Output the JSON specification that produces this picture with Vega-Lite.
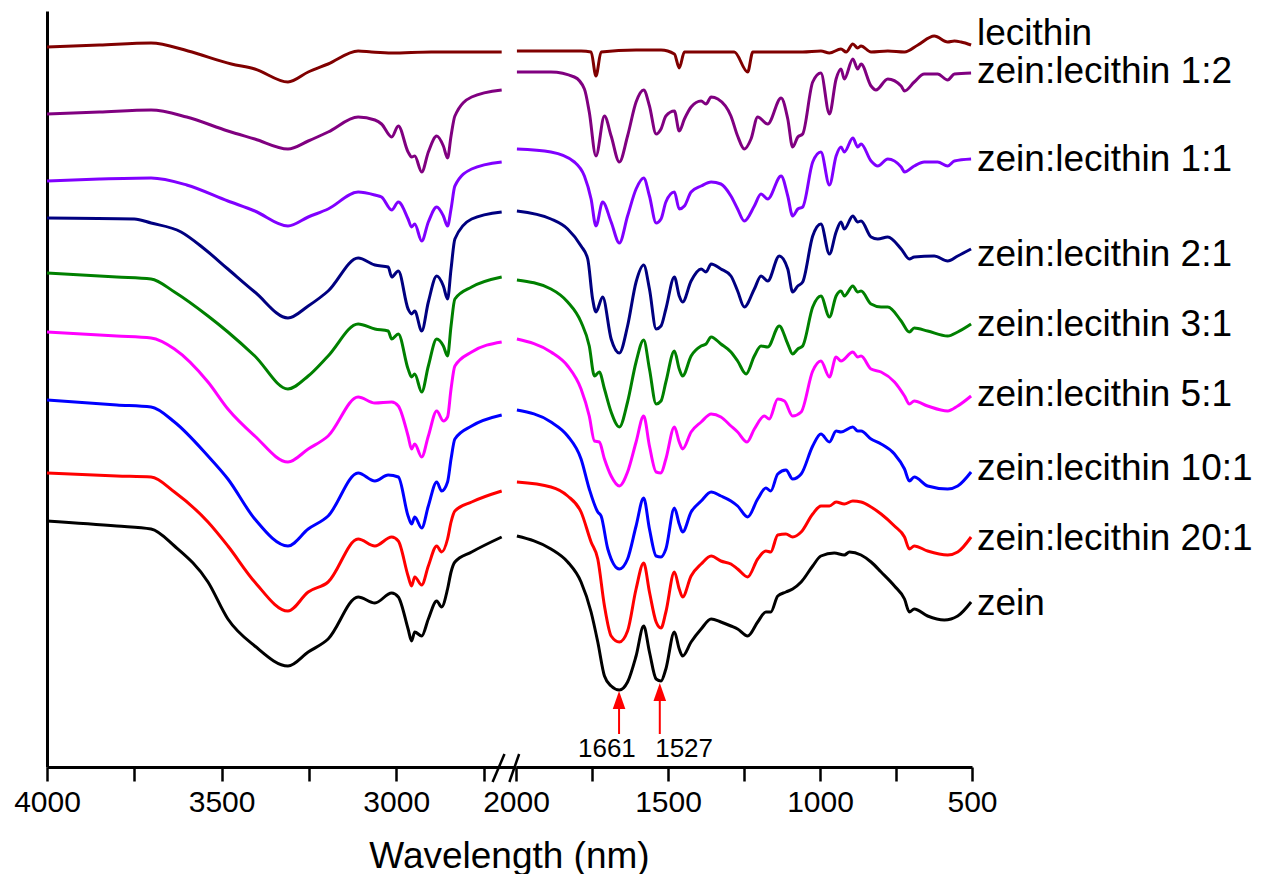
{
"$schema": "https://vega.github.io/schema/vega-lite/v6.json",
"padding": {"left": 13, "top": 11, "right": 0, "bottom": 0},
"background": "white",
"bounds": "flush",
"spacing": 0,
"config": {"view": {"stroke": null}, "font": "Liberation Sans"},
"datasets": {
"spectra": [
{"s":"lec","x":4000,"y":720},{"s":"lec","x":3850,"y":722},{"s":"lec","x":3702,"y":724},{"s":"lec","x":3596,"y":716},{"s":"lec","x":3472,"y":703},{"s":"lec","x":3405,"y":698},{"s":"lec","x":3310,"y":685},{"s":"lec","x":3252,"y":695},{"s":"lec","x":3195,"y":703},{"s":"lec","x":3109,"y":716},{"s":"lec","x":3071,"y":715},{"s":"lec","x":3013,"y":714},{"s":"lec","x":2900,"y":715},{"s":"lec","x":2698,"y":715},
{"s":"lec","x":1997,"y":716},{"s":"lec","x":1786,"y":716},{"s":"lec","x":1753,"y":715},{"s":"lec","x":1737,"y":691},{"s":"lec","x":1720,"y":715},{"s":"lec","x":1605,"y":717},{"s":"lec","x":1523,"y":717},{"s":"lec","x":1479,"y":713},{"s":"lec","x":1463,"y":699},{"s":"lec","x":1446,"y":715},{"s":"lec","x":1282,"y":715},{"s":"lec","x":1238,"y":695},{"s":"lec","x":1221,"y":715},{"s":"lec","x":1057,"y":715},{"s":"lec","x":997,"y":716},{"s":"lec","x":969,"y":714},{"s":"lec","x":931,"y":718},{"s":"lec","x":914,"y":715},{"s":"lec","x":892,"y":723},{"s":"lec","x":876,"y":719},{"s":"lec","x":865,"y":721},{"s":"lec","x":832,"y":715},{"s":"lec","x":777,"y":716},{"s":"lec","x":722,"y":715},{"s":"lec","x":678,"y":722},{"s":"lec","x":624,"y":731},{"s":"lec","x":580,"y":725},{"s":"lec","x":558,"y":726},{"s":"lec","x":536,"y":725},{"s":"lec","x":503,"y":722},

{"s":"1:2","x":4000,"y":653},{"s":"1:2","x":3850,"y":655},{"s":"1:2","x":3702,"y":657},{"s":"1:2","x":3600,"y":650},{"s":"1:2","x":3482,"y":636},{"s":"1:2","x":3405,"y":628},{"s":"1:2","x":3310,"y":618},{"s":"1:2","x":3252,"y":626},{"s":"1:2","x":3195,"y":635},{"s":"1:2","x":3109,"y":650},{"s":"1:2","x":3061,"y":647},{"s":"1:2","x":3042,"y":643},{"s":"1:2","x":3013,"y":630},{"s":"1:2","x":2994,"y":641},{"s":"1:2","x":2966,"y":615},{"s":"1:2","x":2956,"y":610},{"s":"1:2","x":2947,"y":611},{"s":"1:2","x":2927,"y":595},{"s":"1:2","x":2908,"y":615},{"s":"1:2","x":2884,"y":631},{"s":"1:2","x":2865,"y":621},{"s":"1:2","x":2853,"y":609},{"s":"1:2","x":2843,"y":631},{"s":"1:2","x":2832,"y":651},{"s":"1:2","x":2784,"y":670},{"s":"1:2","x":2698,"y":677},
{"s":"1:2","x":1997,"y":695},{"s":"1:2","x":1885,"y":695},{"s":"1:2","x":1808,"y":690},{"s":"1:2","x":1775,"y":678},{"s":"1:2","x":1759,"y":655},{"s":"1:2","x":1737,"y":611},{"s":"1:2","x":1709,"y":651},{"s":"1:2","x":1687,"y":631},{"s":"1:2","x":1660,"y":605},{"s":"1:2","x":1633,"y":631},{"s":"1:2","x":1605,"y":665},{"s":"1:2","x":1580,"y":677},{"s":"1:2","x":1561,"y":661},{"s":"1:2","x":1539,"y":633},{"s":"1:2","x":1523,"y":638},{"s":"1:2","x":1507,"y":651},{"s":"1:2","x":1479,"y":656},{"s":"1:2","x":1463,"y":636},{"s":"1:2","x":1446,"y":648},{"s":"1:2","x":1424,"y":660},{"s":"1:2","x":1391,"y":666},{"s":"1:2","x":1375,"y":663},{"s":"1:2","x":1358,"y":670},{"s":"1:2","x":1336,"y":668},{"s":"1:2","x":1293,"y":651},{"s":"1:2","x":1271,"y":631},{"s":"1:2","x":1249,"y":618},{"s":"1:2","x":1227,"y":628},{"s":"1:2","x":1205,"y":650},{"s":"1:2","x":1172,"y":643},{"s":"1:2","x":1128,"y":669},{"s":"1:2","x":1106,"y":648},{"s":"1:2","x":1090,"y":620},{"s":"1:2","x":1073,"y":630},{"s":"1:2","x":1057,"y":633},{"s":"1:2","x":1024,"y":685},{"s":"1:2","x":997,"y":694},{"s":"1:2","x":969,"y":653},{"s":"1:2","x":947,"y":688},{"s":"1:2","x":931,"y":698},{"s":"1:2","x":920,"y":688},{"s":"1:2","x":892,"y":708},{"s":"1:2","x":876,"y":698},{"s":"1:2","x":865,"y":703},{"s":"1:2","x":832,"y":681},{"s":"1:2","x":816,"y":677},{"s":"1:2","x":777,"y":688},{"s":"1:2","x":733,"y":681},{"s":"1:2","x":722,"y":676},{"s":"1:2","x":690,"y":685},{"s":"1:2","x":657,"y":693},{"s":"1:2","x":613,"y":693},{"s":"1:2","x":580,"y":687},{"s":"1:2","x":558,"y":693},{"s":"1:2","x":503,"y":694},

{"s":"1:1","x":4000,"y":586},{"s":"1:1","x":3850,"y":588},{"s":"1:1","x":3702,"y":589},{"s":"1:1","x":3600,"y":582},{"s":"1:1","x":3482,"y":566},{"s":"1:1","x":3405,"y":556},{"s":"1:1","x":3310,"y":541},{"s":"1:1","x":3252,"y":550},{"s":"1:1","x":3195,"y":558},{"s":"1:1","x":3109,"y":575},{"s":"1:1","x":3061,"y":572},{"s":"1:1","x":3042,"y":570},{"s":"1:1","x":3013,"y":557},{"s":"1:1","x":2994,"y":565},{"s":"1:1","x":2966,"y":548},{"s":"1:1","x":2956,"y":540},{"s":"1:1","x":2947,"y":543},{"s":"1:1","x":2927,"y":526},{"s":"1:1","x":2908,"y":545},{"s":"1:1","x":2884,"y":560},{"s":"1:1","x":2865,"y":551},{"s":"1:1","x":2853,"y":541},{"s":"1:1","x":2843,"y":558},{"s":"1:1","x":2832,"y":581},{"s":"1:1","x":2784,"y":598},{"s":"1:1","x":2698,"y":605},
{"s":"1:1","x":1997,"y":618},{"s":"1:1","x":1885,"y":615},{"s":"1:1","x":1808,"y":605},{"s":"1:1","x":1775,"y":591},{"s":"1:1","x":1753,"y":568},{"s":"1:1","x":1737,"y":541},{"s":"1:1","x":1715,"y":565},{"s":"1:1","x":1687,"y":545},{"s":"1:1","x":1660,"y":524},{"s":"1:1","x":1633,"y":551},{"s":"1:1","x":1605,"y":578},{"s":"1:1","x":1580,"y":589},{"s":"1:1","x":1561,"y":571},{"s":"1:1","x":1539,"y":544},{"s":"1:1","x":1523,"y":548},{"s":"1:1","x":1507,"y":565},{"s":"1:1","x":1479,"y":575},{"s":"1:1","x":1463,"y":558},{"s":"1:1","x":1446,"y":561},{"s":"1:1","x":1424,"y":575},{"s":"1:1","x":1391,"y":581},{"s":"1:1","x":1358,"y":585},{"s":"1:1","x":1326,"y":583},{"s":"1:1","x":1293,"y":571},{"s":"1:1","x":1271,"y":558},{"s":"1:1","x":1249,"y":546},{"s":"1:1","x":1216,"y":561},{"s":"1:1","x":1194,"y":573},{"s":"1:1","x":1172,"y":568},{"s":"1:1","x":1128,"y":591},{"s":"1:1","x":1106,"y":571},{"s":"1:1","x":1090,"y":551},{"s":"1:1","x":1073,"y":558},{"s":"1:1","x":1057,"y":560},{"s":"1:1","x":1024,"y":605},{"s":"1:1","x":997,"y":615},{"s":"1:1","x":969,"y":582},{"s":"1:1","x":947,"y":611},{"s":"1:1","x":931,"y":620},{"s":"1:1","x":920,"y":615},{"s":"1:1","x":892,"y":629},{"s":"1:1","x":876,"y":620},{"s":"1:1","x":865,"y":623},{"s":"1:1","x":832,"y":606},{"s":"1:1","x":810,"y":601},{"s":"1:1","x":777,"y":608},{"s":"1:1","x":733,"y":600},{"s":"1:1","x":722,"y":595},{"s":"1:1","x":690,"y":601},{"s":"1:1","x":657,"y":605},{"s":"1:1","x":613,"y":605},{"s":"1:1","x":580,"y":601},{"s":"1:1","x":558,"y":606},{"s":"1:1","x":503,"y":608},

{"s":"2:1","x":4000,"y":549},{"s":"2:1","x":3750,"y":548},{"s":"2:1","x":3702,"y":544},{"s":"2:1","x":3616,"y":535},{"s":"2:1","x":3549,"y":518},{"s":"2:1","x":3482,"y":498},{"s":"2:1","x":3405,"y":475},{"s":"2:1","x":3310,"y":449},{"s":"2:1","x":3252,"y":461},{"s":"2:1","x":3195,"y":476},{"s":"2:1","x":3109,"y":509},{"s":"2:1","x":3061,"y":502},{"s":"2:1","x":3023,"y":500},{"s":"2:1","x":3013,"y":490},{"s":"2:1","x":2994,"y":496},{"s":"2:1","x":2966,"y":458},{"s":"2:1","x":2956,"y":453},{"s":"2:1","x":2947,"y":456},{"s":"2:1","x":2927,"y":436},{"s":"2:1","x":2908,"y":465},{"s":"2:1","x":2884,"y":491},{"s":"2:1","x":2865,"y":481},{"s":"2:1","x":2853,"y":468},{"s":"2:1","x":2843,"y":498},{"s":"2:1","x":2832,"y":528},{"s":"2:1","x":2784,"y":548},{"s":"2:1","x":2698,"y":555},
{"s":"2:1","x":1997,"y":556},{"s":"2:1","x":1885,"y":548},{"s":"2:1","x":1830,"y":538},{"s":"2:1","x":1786,"y":521},{"s":"2:1","x":1764,"y":508},{"s":"2:1","x":1748,"y":468},{"s":"2:1","x":1737,"y":455},{"s":"2:1","x":1715,"y":470},{"s":"2:1","x":1687,"y":428},{"s":"2:1","x":1660,"y":414},{"s":"2:1","x":1633,"y":441},{"s":"2:1","x":1605,"y":485},{"s":"2:1","x":1580,"y":502},{"s":"2:1","x":1561,"y":478},{"s":"2:1","x":1539,"y":438},{"s":"2:1","x":1523,"y":441},{"s":"2:1","x":1507,"y":458},{"s":"2:1","x":1479,"y":490},{"s":"2:1","x":1463,"y":471},{"s":"2:1","x":1452,"y":465},{"s":"2:1","x":1424,"y":486},{"s":"2:1","x":1391,"y":498},{"s":"2:1","x":1375,"y":495},{"s":"2:1","x":1358,"y":503},{"s":"2:1","x":1326,"y":498},{"s":"2:1","x":1293,"y":491},{"s":"2:1","x":1271,"y":476},{"s":"2:1","x":1249,"y":460},{"s":"2:1","x":1216,"y":478},{"s":"2:1","x":1194,"y":491},{"s":"2:1","x":1172,"y":486},{"s":"2:1","x":1134,"y":511},{"s":"2:1","x":1106,"y":498},{"s":"2:1","x":1090,"y":475},{"s":"2:1","x":1073,"y":481},{"s":"2:1","x":1057,"y":485},{"s":"2:1","x":1024,"y":531},{"s":"2:1","x":997,"y":543},{"s":"2:1","x":969,"y":513},{"s":"2:1","x":947,"y":535},{"s":"2:1","x":931,"y":545},{"s":"2:1","x":920,"y":538},{"s":"2:1","x":892,"y":551},{"s":"2:1","x":876,"y":545},{"s":"2:1","x":865,"y":546},{"s":"2:1","x":832,"y":530},{"s":"2:1","x":810,"y":528},{"s":"2:1","x":777,"y":530},{"s":"2:1","x":733,"y":518},{"s":"2:1","x":706,"y":508},{"s":"2:1","x":690,"y":510},{"s":"2:1","x":624,"y":511},{"s":"2:1","x":580,"y":506},{"s":"2:1","x":547,"y":511},{"s":"2:1","x":503,"y":518},

{"s":"3:1","x":4000,"y":494},{"s":"3:1","x":3800,"y":490},{"s":"3:1","x":3702,"y":488},{"s":"3:1","x":3635,"y":475},{"s":"3:1","x":3539,"y":451},{"s":"3:1","x":3482,"y":435},{"s":"3:1","x":3405,"y":411},{"s":"3:1","x":3310,"y":378},{"s":"3:1","x":3252,"y":391},{"s":"3:1","x":3195,"y":411},{"s":"3:1","x":3109,"y":443},{"s":"3:1","x":3061,"y":438},{"s":"3:1","x":3023,"y":436},{"s":"3:1","x":3013,"y":428},{"s":"3:1","x":2994,"y":433},{"s":"3:1","x":2966,"y":398},{"s":"3:1","x":2956,"y":390},{"s":"3:1","x":2947,"y":393},{"s":"3:1","x":2927,"y":375},{"s":"3:1","x":2908,"y":401},{"s":"3:1","x":2884,"y":428},{"s":"3:1","x":2865,"y":421},{"s":"3:1","x":2853,"y":411},{"s":"3:1","x":2843,"y":441},{"s":"3:1","x":2832,"y":468},{"s":"3:1","x":2784,"y":480},{"s":"3:1","x":2698,"y":490},
{"s":"3:1","x":1997,"y":487},{"s":"3:1","x":1885,"y":478},{"s":"3:1","x":1830,"y":465},{"s":"3:1","x":1786,"y":445},{"s":"3:1","x":1759,"y":421},{"s":"3:1","x":1742,"y":391},{"s":"3:1","x":1726,"y":395},{"s":"3:1","x":1709,"y":378},{"s":"3:1","x":1687,"y":355},{"s":"3:1","x":1660,"y":340},{"s":"3:1","x":1633,"y":365},{"s":"3:1","x":1605,"y":405},{"s":"3:1","x":1580,"y":427},{"s":"3:1","x":1561,"y":398},{"s":"3:1","x":1539,"y":363},{"s":"3:1","x":1523,"y":366},{"s":"3:1","x":1507,"y":385},{"s":"3:1","x":1479,"y":416},{"s":"3:1","x":1463,"y":398},{"s":"3:1","x":1452,"y":391},{"s":"3:1","x":1424,"y":411},{"s":"3:1","x":1391,"y":421},{"s":"3:1","x":1375,"y":423},{"s":"3:1","x":1358,"y":430},{"s":"3:1","x":1326,"y":423},{"s":"3:1","x":1293,"y":415},{"s":"3:1","x":1271,"y":406},{"s":"3:1","x":1243,"y":393},{"s":"3:1","x":1216,"y":411},{"s":"3:1","x":1194,"y":421},{"s":"3:1","x":1172,"y":420},{"s":"3:1","x":1134,"y":441},{"s":"3:1","x":1106,"y":423},{"s":"3:1","x":1090,"y":413},{"s":"3:1","x":1073,"y":418},{"s":"3:1","x":1057,"y":421},{"s":"3:1","x":1024,"y":460},{"s":"3:1","x":997,"y":471},{"s":"3:1","x":969,"y":450},{"s":"3:1","x":947,"y":471},{"s":"3:1","x":931,"y":476},{"s":"3:1","x":920,"y":471},{"s":"3:1","x":892,"y":481},{"s":"3:1","x":876,"y":475},{"s":"3:1","x":865,"y":476},{"s":"3:1","x":832,"y":463},{"s":"3:1","x":799,"y":460},{"s":"3:1","x":777,"y":460},{"s":"3:1","x":733,"y":446},{"s":"3:1","x":706,"y":435},{"s":"3:1","x":690,"y":439},{"s":"3:1","x":646,"y":436},{"s":"3:1","x":580,"y":431},{"s":"3:1","x":547,"y":435},{"s":"3:1","x":503,"y":443},

{"s":"5:1","x":4000,"y":435},{"s":"5:1","x":3800,"y":431},{"s":"5:1","x":3702,"y":429},{"s":"5:1","x":3635,"y":418},{"s":"5:1","x":3539,"y":385},{"s":"5:1","x":3482,"y":358},{"s":"5:1","x":3405,"y":331},{"s":"5:1","x":3310,"y":305},{"s":"5:1","x":3252,"y":318},{"s":"5:1","x":3195,"y":331},{"s":"5:1","x":3109,"y":370},{"s":"5:1","x":3061,"y":364},{"s":"5:1","x":3013,"y":365},{"s":"5:1","x":2994,"y":361},{"s":"5:1","x":2966,"y":331},{"s":"5:1","x":2956,"y":318},{"s":"5:1","x":2947,"y":323},{"s":"5:1","x":2927,"y":310},{"s":"5:1","x":2908,"y":331},{"s":"5:1","x":2884,"y":356},{"s":"5:1","x":2865,"y":346},{"s":"5:1","x":2853,"y":350},{"s":"5:1","x":2843,"y":378},{"s":"5:1","x":2832,"y":401},{"s":"5:1","x":2784,"y":415},{"s":"5:1","x":2698,"y":425},
{"s":"5:1","x":1997,"y":428},{"s":"5:1","x":1885,"y":415},{"s":"5:1","x":1830,"y":401},{"s":"5:1","x":1786,"y":378},{"s":"5:1","x":1759,"y":351},{"s":"5:1","x":1742,"y":326},{"s":"5:1","x":1726,"y":325},{"s":"5:1","x":1709,"y":308},{"s":"5:1","x":1687,"y":291},{"s":"5:1","x":1660,"y":281},{"s":"5:1","x":1633,"y":295},{"s":"5:1","x":1605,"y":325},{"s":"5:1","x":1580,"y":351},{"s":"5:1","x":1561,"y":321},{"s":"5:1","x":1539,"y":295},{"s":"5:1","x":1523,"y":294},{"s":"5:1","x":1507,"y":308},{"s":"5:1","x":1479,"y":340},{"s":"5:1","x":1463,"y":325},{"s":"5:1","x":1452,"y":318},{"s":"5:1","x":1424,"y":335},{"s":"5:1","x":1391,"y":345},{"s":"5:1","x":1358,"y":353},{"s":"5:1","x":1326,"y":350},{"s":"5:1","x":1293,"y":341},{"s":"5:1","x":1271,"y":335},{"s":"5:1","x":1240,"y":325},{"s":"5:1","x":1216,"y":338},{"s":"5:1","x":1183,"y":351},{"s":"5:1","x":1167,"y":348},{"s":"5:1","x":1139,"y":368},{"s":"5:1","x":1117,"y":366},{"s":"5:1","x":1090,"y":351},{"s":"5:1","x":1062,"y":355},{"s":"5:1","x":1024,"y":396},{"s":"5:1","x":997,"y":406},{"s":"5:1","x":969,"y":390},{"s":"5:1","x":947,"y":410},{"s":"5:1","x":931,"y":406},{"s":"5:1","x":892,"y":415},{"s":"5:1","x":876,"y":410},{"s":"5:1","x":865,"y":411},{"s":"5:1","x":832,"y":398},{"s":"5:1","x":799,"y":395},{"s":"5:1","x":755,"y":385},{"s":"5:1","x":722,"y":371},{"s":"5:1","x":706,"y":363},{"s":"5:1","x":690,"y":366},{"s":"5:1","x":646,"y":361},{"s":"5:1","x":580,"y":356},{"s":"5:1","x":547,"y":361},{"s":"5:1","x":503,"y":371},

{"s":"10:1","x":4000,"y":367},{"s":"10:1","x":3800,"y":362},{"s":"10:1","x":3702,"y":360},{"s":"10:1","x":3635,"y":345},{"s":"10:1","x":3539,"y":311},{"s":"10:1","x":3482,"y":288},{"s":"10:1","x":3405,"y":248},{"s":"10:1","x":3310,"y":221},{"s":"10:1","x":3252,"y":238},{"s":"10:1","x":3195,"y":251},{"s":"10:1","x":3109,"y":294},{"s":"10:1","x":3061,"y":286},{"s":"10:1","x":3023,"y":292},{"s":"10:1","x":2994,"y":290},{"s":"10:1","x":2966,"y":251},{"s":"10:1","x":2956,"y":243},{"s":"10:1","x":2947,"y":250},{"s":"10:1","x":2927,"y":239},{"s":"10:1","x":2908,"y":261},{"s":"10:1","x":2884,"y":285},{"s":"10:1","x":2870,"y":276},{"s":"10:1","x":2853,"y":285},{"s":"10:1","x":2843,"y":308},{"s":"10:1","x":2832,"y":328},{"s":"10:1","x":2784,"y":341},{"s":"10:1","x":2698,"y":352},
{"s":"10:1","x":1997,"y":357},{"s":"10:1","x":1885,"y":345},{"s":"10:1","x":1830,"y":331},{"s":"10:1","x":1786,"y":308},{"s":"10:1","x":1759,"y":278},{"s":"10:1","x":1731,"y":255},{"s":"10:1","x":1720,"y":251},{"s":"10:1","x":1698,"y":218},{"s":"10:1","x":1660,"y":198},{"s":"10:1","x":1633,"y":208},{"s":"10:1","x":1605,"y":241},{"s":"10:1","x":1580,"y":269},{"s":"10:1","x":1561,"y":238},{"s":"10:1","x":1539,"y":211},{"s":"10:1","x":1523,"y":210},{"s":"10:1","x":1507,"y":218},{"s":"10:1","x":1479,"y":259},{"s":"10:1","x":1463,"y":243},{"s":"10:1","x":1452,"y":235},{"s":"10:1","x":1424,"y":255},{"s":"10:1","x":1391,"y":266},{"s":"10:1","x":1358,"y":275},{"s":"10:1","x":1326,"y":271},{"s":"10:1","x":1293,"y":266},{"s":"10:1","x":1271,"y":261},{"s":"10:1","x":1238,"y":250},{"s":"10:1","x":1205,"y":268},{"s":"10:1","x":1178,"y":279},{"s":"10:1","x":1162,"y":276},{"s":"10:1","x":1139,"y":293},{"s":"10:1","x":1112,"y":297},{"s":"10:1","x":1090,"y":288},{"s":"10:1","x":1062,"y":293},{"s":"10:1","x":1024,"y":321},{"s":"10:1","x":997,"y":333},{"s":"10:1","x":969,"y":325},{"s":"10:1","x":947,"y":336},{"s":"10:1","x":931,"y":335},{"s":"10:1","x":892,"y":340},{"s":"10:1","x":876,"y":336},{"s":"10:1","x":865,"y":336},{"s":"10:1","x":832,"y":328},{"s":"10:1","x":799,"y":323},{"s":"10:1","x":755,"y":313},{"s":"10:1","x":722,"y":298},{"s":"10:1","x":706,"y":286},{"s":"10:1","x":690,"y":290},{"s":"10:1","x":646,"y":281},{"s":"10:1","x":580,"y":278},{"s":"10:1","x":547,"y":281},{"s":"10:1","x":503,"y":295},

{"s":"20:1","x":4000,"y":294},{"s":"20:1","x":3800,"y":291},{"s":"20:1","x":3702,"y":290},{"s":"20:1","x":3635,"y":275},{"s":"20:1","x":3539,"y":245},{"s":"20:1","x":3482,"y":221},{"s":"20:1","x":3405,"y":185},{"s":"20:1","x":3310,"y":156},{"s":"20:1","x":3252,"y":175},{"s":"20:1","x":3195,"y":185},{"s":"20:1","x":3109,"y":228},{"s":"20:1","x":3061,"y":221},{"s":"20:1","x":3013,"y":230},{"s":"20:1","x":2994,"y":226},{"s":"20:1","x":2966,"y":191},{"s":"20:1","x":2956,"y":181},{"s":"20:1","x":2947,"y":190},{"s":"20:1","x":2927,"y":182},{"s":"20:1","x":2908,"y":201},{"s":"20:1","x":2884,"y":221},{"s":"20:1","x":2870,"y":215},{"s":"20:1","x":2853,"y":228},{"s":"20:1","x":2843,"y":245},{"s":"20:1","x":2832,"y":256},{"s":"20:1","x":2784,"y":265},{"s":"20:1","x":2698,"y":276},
{"s":"20:1","x":1997,"y":285},{"s":"20:1","x":1885,"y":280},{"s":"20:1","x":1830,"y":271},{"s":"20:1","x":1786,"y":255},{"s":"20:1","x":1753,"y":225},{"s":"20:1","x":1731,"y":208},{"s":"20:1","x":1709,"y":161},{"s":"20:1","x":1687,"y":131},{"s":"20:1","x":1660,"y":125},{"s":"20:1","x":1633,"y":136},{"s":"20:1","x":1605,"y":178},{"s":"20:1","x":1580,"y":204},{"s":"20:1","x":1561,"y":175},{"s":"20:1","x":1539,"y":145},{"s":"20:1","x":1523,"y":139},{"s":"20:1","x":1507,"y":155},{"s":"20:1","x":1479,"y":195},{"s":"20:1","x":1463,"y":178},{"s":"20:1","x":1452,"y":170},{"s":"20:1","x":1424,"y":191},{"s":"20:1","x":1391,"y":203},{"s":"20:1","x":1358,"y":211},{"s":"20:1","x":1326,"y":206},{"s":"20:1","x":1293,"y":203},{"s":"20:1","x":1271,"y":198},{"s":"20:1","x":1238,"y":190},{"s":"20:1","x":1205,"y":208},{"s":"20:1","x":1178,"y":216},{"s":"20:1","x":1162,"y":215},{"s":"20:1","x":1139,"y":232},{"s":"20:1","x":1112,"y":233},{"s":"20:1","x":1090,"y":230},{"s":"20:1","x":1062,"y":235},{"s":"20:1","x":1024,"y":253},{"s":"20:1","x":997,"y":261},{"s":"20:1","x":969,"y":261},{"s":"20:1","x":947,"y":265},{"s":"20:1","x":920,"y":263},{"s":"20:1","x":892,"y":266},{"s":"20:1","x":865,"y":265},{"s":"20:1","x":832,"y":260},{"s":"20:1","x":799,"y":253},{"s":"20:1","x":755,"y":241},{"s":"20:1","x":722,"y":230},{"s":"20:1","x":706,"y":218},{"s":"20:1","x":690,"y":221},{"s":"20:1","x":646,"y":216},{"s":"20:1","x":580,"y":212},{"s":"20:1","x":547,"y":215},{"s":"20:1","x":503,"y":230},

{"s":"zein","x":4000,"y":246},{"s":"zein","x":3800,"y":241},{"s":"zein","x":3702,"y":238},{"s":"zein","x":3635,"y":221},{"s":"zein","x":3539,"y":185},{"s":"zein","x":3482,"y":148},{"s":"zein","x":3405,"y":121},{"s":"zein","x":3310,"y":101},{"s":"zein","x":3252,"y":115},{"s":"zein","x":3195,"y":128},{"s":"zein","x":3109,"y":170},{"s":"zein","x":3061,"y":164},{"s":"zein","x":3013,"y":174},{"s":"zein","x":2994,"y":170},{"s":"zein","x":2966,"y":138},{"s":"zein","x":2956,"y":126},{"s":"zein","x":2947,"y":135},{"s":"zein","x":2927,"y":131},{"s":"zein","x":2908,"y":148},{"s":"zein","x":2884,"y":166},{"s":"zein","x":2870,"y":160},{"s":"zein","x":2853,"y":178},{"s":"zein","x":2843,"y":195},{"s":"zein","x":2832,"y":205},{"s":"zein","x":2784,"y":215},{"s":"zein","x":2698,"y":230},
{"s":"zein","x":1997,"y":231},{"s":"zein","x":1885,"y":218},{"s":"zein","x":1830,"y":205},{"s":"zein","x":1786,"y":185},{"s":"zein","x":1753,"y":155},{"s":"zein","x":1731,"y":125},{"s":"zein","x":1709,"y":91},{"s":"zein","x":1687,"y":81},{"s":"zein","x":1660,"y":77},{"s":"zein","x":1633,"y":85},{"s":"zein","x":1605,"y":111},{"s":"zein","x":1580,"y":141},{"s":"zein","x":1561,"y":115},{"s":"zein","x":1539,"y":88},{"s":"zein","x":1523,"y":86},{"s":"zein","x":1507,"y":98},{"s":"zein","x":1479,"y":135},{"s":"zein","x":1463,"y":118},{"s":"zein","x":1452,"y":111},{"s":"zein","x":1424,"y":125},{"s":"zein","x":1391,"y":138},{"s":"zein","x":1358,"y":148},{"s":"zein","x":1326,"y":145},{"s":"zein","x":1293,"y":141},{"s":"zein","x":1271,"y":138},{"s":"zein","x":1238,"y":131},{"s":"zein","x":1205,"y":145},{"s":"zein","x":1178,"y":155},{"s":"zein","x":1162,"y":155},{"s":"zein","x":1139,"y":171},{"s":"zein","x":1112,"y":175},{"s":"zein","x":1090,"y":178},{"s":"zein","x":1062,"y":185},{"s":"zein","x":1024,"y":201},{"s":"zein","x":997,"y":211},{"s":"zein","x":953,"y":214},{"s":"zein","x":920,"y":212},{"s":"zein","x":903,"y":215},{"s":"zein","x":865,"y":212},{"s":"zein","x":832,"y":205},{"s":"zein","x":799,"y":195},{"s":"zein","x":755,"y":181},{"s":"zein","x":722,"y":168},{"s":"zein","x":706,"y":155},{"s":"zein","x":690,"y":158},{"s":"zein","x":646,"y":151},{"s":"zein","x":591,"y":147},{"s":"zein","x":547,"y":151},{"s":"zein","x":503,"y":165}
],
"labels": [
{"t":"lecithin","y":733},{"t":"zein:lecithin 1:2","y":695},{"t":"zein:lecithin 1:1","y":607},{"t":"zein:lecithin 2:1","y":512},{"t":"zein:lecithin 3:1","y":442},{"t":"zein:lecithin 5:1","y":372},{"t":"zein:lecithin 10:1","y":298},{"t":"zein:lecithin 20:1","y":228},{"t":"zein","y":163}
],
"arrows": [
{"x":1661,"lx":1701,"t":"1661","y0":33,"head":67},
{"x":1527,"lx":1447,"t":"1527","y0":33,"head":75}
],
"breaks": [
{"x":2724,"x2":2690,"y":-15,"y2":13},
{"x":2676,"x2":2648,"y":-15,"y2":13}
]
},
"hconcat": [
{
"width": 469, "height": 756,
"layer": [
{
"data": {"name": "spectra"},
"transform": [{"filter": "datum.x > 2500"}],
"mark": {"type": "line", "strokeWidth": 3, "strokeJoin": "round", "interpolate": "monotone"},
"encoding": {
"x": {"field": "x", "type": "quantitative",
 "scale": {"domain": [2657, 4000], "reverse": true, "zero": false, "nice": false},
 "axis": {"values": [4000, 3750, 3500, 3250, 3000, 2750], "format": "d",
  "labelExpr": "datum.value % 500 === 0 ? datum.label : ''",
  "tickSize": 14, "tickWidth": 2.5, "tickColor": "black", "domainWidth": 3, "domainColor": "black",
  "labelFont": "Liberation Sans", "labelFontSize": 30, "labelColor": "black", "labelPadding": 6,
  "labelFlush": false, "labelOverlap": false, "grid": false,
  "title": "Wavelength (nm)", "titleX": 462, "titleY": 100, "titleAlign": "center", "titleBaseline": "alphabetic",
  "titleFont": "Liberation Sans", "titleFontSize": 37, "titleFontWeight": "normal", "titleColor": "black",
  "encode": {"ticks": {"update": {"y2": {"signal": "datum.value % 500 === 0 ? 14 : 8"}}}}}},
"y": {"field": "y", "type": "quantitative",
 "scale": {"domain": [0, 756], "zero": false, "nice": false},
 "axis": {"domain": true, "ticks": false, "labels": false, "title": null, "grid": false,
  "domainWidth": 3, "domainColor": "black", "minExtent": 0}},
"color": {"field": "s", "type": "nominal",
 "scale": {"domain": ["lec", "1:2", "1:1", "2:1", "3:1", "5:1", "10:1", "20:1", "zein"],
  "range": ["#800000", "#800080", "#8000FF", "#000080", "#008000", "#FF00FF", "#0000FF", "#FF0000", "#000000"]},
 "legend": null}
}
},
{
"data": {"name": "breaks"},
"mark": {"type": "rule", "strokeWidth": 2.5, "color": "black"},
"encoding": {
"x": {"field": "x", "type": "quantitative"},
"x2": {"field": "x2"},
"y": {"field": "y", "type": "quantitative"},
"y2": {"field": "y2"}
}
}
]
},
{
"width": 456, "height": 756,
"layer": [
{
"data": {"name": "spectra"},
"transform": [{"filter": "datum.x < 2100"}],
"mark": {"type": "line", "strokeWidth": 3, "strokeJoin": "round", "interpolate": "monotone"},
"encoding": {
"x": {"field": "x", "type": "quantitative",
 "scale": {"domain": [500, 2000], "reverse": true, "zero": false, "nice": false},
 "axis": {"values": [2000, 1750, 1500, 1250, 1000, 750, 500], "format": "d",
  "labelExpr": "datum.value % 500 === 0 ? datum.label : ''",
  "tickSize": 14, "tickWidth": 2.5, "tickColor": "black", "domainWidth": 3, "domainColor": "black",
  "labelFont": "Liberation Sans", "labelFontSize": 30, "labelColor": "black", "labelPadding": 6,
  "labelFlush": false, "labelOverlap": false, "grid": false, "title": null,
  "encode": {"ticks": {"update": {"y2": {"signal": "datum.value % 500 === 0 ? 14 : 8"}}}}}},
"y": {"field": "y", "type": "quantitative",
 "scale": {"domain": [0, 756], "zero": false, "nice": false}, "axis": null},
"color": {"field": "s", "type": "nominal",
 "scale": {"domain": ["lec", "1:2", "1:1", "2:1", "3:1", "5:1", "10:1", "20:1", "zein"],
  "range": ["#800000", "#800080", "#8000FF", "#000080", "#008000", "#FF00FF", "#0000FF", "#FF0000", "#000000"]},
 "legend": null}
}
},
{
"data": {"name": "labels"},
"mark": {"type": "text", "align": "left", "baseline": "middle", "dx": 5, "fontSize": 37, "font": "Liberation Sans", "color": "black"},
"encoding": {
"x": {"datum": 500, "type": "quantitative"},
"y": {"field": "y", "type": "quantitative"},
"text": {"field": "t"}
}
},
{
"data": {"name": "arrows"},
"mark": {"type": "rule", "strokeWidth": 2, "color": "#FF0000"},
"encoding": {
"x": {"field": "x", "type": "quantitative"},
"y": {"field": "y0", "type": "quantitative"},
"y2": {"field": "head"}
}
},
{
"data": {"name": "arrows"},
"mark": {"type": "point", "shape": "M0,-1L0.7,1L-0.7,1Z", "filled": true, "size": 324, "color": "#FF0000", "opacity": 1, "strokeWidth": 0},
"encoding": {
"x": {"field": "x", "type": "quantitative"},
"y": {"field": "head", "type": "quantitative"}
}
},
{
"data": {"name": "arrows"},
"mark": {"type": "text", "align": "center", "baseline": "middle", "fontSize": 26, "font": "Liberation Sans", "color": "black"},
"encoding": {
"x": {"field": "lx", "type": "quantitative"},
"y": {"datum": 18, "type": "quantitative"},
"text": {"field": "t"}
}
}
]
}
]
}
